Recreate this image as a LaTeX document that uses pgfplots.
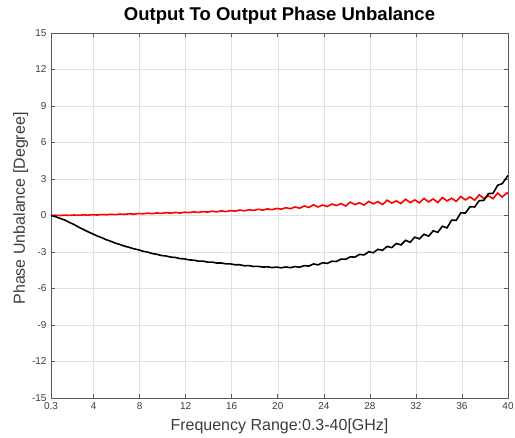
\documentclass[border=0pt]{standalone}
\usepackage{fontspec}
\setmainfont{Liberation Sans}
\usepackage{pgfplots}
\pgfplotsset{compat=1.18}

\definecolor{gridgray}{RGB}{225,225,225}
\definecolor{axgray}{RGB}{90,90,90}
\definecolor{labgray}{RGB}{60,60,60}

\begin{document}
\begin{tikzpicture}
% fixed frame: 1pt = 1px of the reference
\path[use as bounding box] (-51pt,-40pt) rectangle (464pt,398pt);
\begin{axis}[
    at={(0pt,0pt)}, anchor=south west,
    scale only axis,
    width=457pt, height=365pt,
    xmin=0.3, xmax=40,
    ymin=-15, ymax=15,
    xtick={0.3,4,8,12,16,20,24,28,32,36,40},
    ytick={-15,-12,-9,-6,-3,0,3,6,9,12,15},
    tick align=inside,
    major tick length=4pt,
    tick style={axgray, line width=0.6pt},
    axis line style={axgray, line width=0.8pt},
    grid=major,
    grid style={gridgray, line width=0.5pt},
    /pgf/number format/assume math mode=true,
    tick label style={font=\fontsize{10}{11}\selectfont, text=labgray},
    yticklabel style={xshift=-1pt},
    xticklabel style={yshift=-1pt},
    title={Output To Output Phase Unbalance},
    title style={font=\fontsize{18.5}{20}\selectfont\bfseries,
        at={(axis description cs:0.5,1)}, anchor=base, yshift=6pt},
    xlabel={Frequency Range:0.3-40[GHz]},
    xlabel style={font=\fontsize{16}{18}\selectfont, text=labgray,
        at={(axis description cs:0.5,0)}, anchor=base, yshift=-33pt},
    ylabel={Phase Unbalance [Degree]},
    % rotated label: xshift runs along the text, yshift across it
    ylabel style={font=\fontsize{16}{18}\selectfont, text=labgray,
        at={(axis description cs:0,0.5)}, anchor=base, xshift=7pt, yshift=26pt},
]

% red trace
\addplot[red, line width=1.6pt] coordinates {
(0.3,0.00) (0.7,0.02) (1.1,0.00) (1.5,0.03) (1.9,0.01) (2.3,0.04) (2.7,0.02)
(3.1,0.05) (3.5,0.03) (3.9,0.06) (4.3,0.04) (4.7,0.08) (5.1,0.06) (5.5,0.10)
(5.9,0.07) (6.3,0.12) (6.7,0.10) (7.1,0.14) (7.5,0.11) (7.9,0.16) (8.3,0.14)
(8.7,0.19) (9.1,0.15) (9.5,0.21) (9.9,0.17) (10.3,0.23) (10.7,0.19) (11.1,0.25)
(11.5,0.20) (11.9,0.27) (12.3,0.24) (12.7,0.30) (13.1,0.25) (13.5,0.32) (13.9,0.28)
(14.3,0.35) (14.7,0.30) (15.1,0.38) (15.5,0.32) (15.9,0.40) (16.3,0.36) (16.7,0.45)
(17.1,0.38) (17.5,0.47) (17.9,0.42) (18.3,0.51) (18.7,0.44) (19.1,0.54) (19.5,0.48)
(19.9,0.58) (20.3,0.52) (20.7,0.64) (21.1,0.56) (21.5,0.70) (21.9,0.60) (22.3,0.78)
(22.7,0.66) (23.1,0.88) (23.5,0.70) (23.9,0.86) (24.3,0.74) (24.7,0.94) (25.1,0.82)
(25.5,0.98) (25.9,0.78) (26.3,1.10) (26.7,0.90) (27.1,1.04) (27.5,0.86) (27.9,1.16)
(28.3,0.96) (28.7,1.14) (29.1,0.90) (29.5,1.26) (29.9,1.02) (30.3,1.20) (30.7,0.98)
(31.1,1.34) (31.5,1.06) (31.9,1.28) (32.3,1.04) (32.7,1.40) (33.1,1.12) (33.5,1.36)
(33.9,1.06) (34.3,1.48) (34.7,1.20) (35.1,1.42) (35.5,1.16) (35.9,1.56) (36.3,1.28)
(36.7,1.52) (37.1,1.26) (37.5,1.70) (37.9,1.40) (38.3,1.62) (38.7,1.38) (39.1,1.84)
(39.5,1.52) (39.9,1.86) (40.0,1.78)
};

% black trace
\addplot[black, line width=1.6pt] coordinates {
(0.3,0.00) (0.7,-0.10) (1.1,-0.24) (1.5,-0.38) (1.9,-0.57) (2.3,-0.74) (2.7,-0.96)
(3.1,-1.14) (3.5,-1.33) (3.9,-1.50) (4.3,-1.68) (4.7,-1.82) (5.1,-1.99) (5.5,-2.12)
(5.9,-2.27) (6.3,-2.39) (6.7,-2.52) (7.1,-2.62) (7.5,-2.74) (7.9,-2.82) (8.3,-2.94)
(8.7,-3.01) (9.1,-3.13) (9.5,-3.19) (9.9,-3.29) (10.3,-3.33) (10.7,-3.42) (11.1,-3.45)
(11.5,-3.54) (11.9,-3.57) (12.3,-3.65) (12.7,-3.67) (13.1,-3.75) (13.5,-3.75) (13.9,-3.83)
(14.3,-3.83) (14.7,-3.91) (15.1,-3.90) (15.5,-3.98) (15.9,-3.98) (16.3,-4.05) (16.7,-4.05)
(17.1,-4.13) (17.5,-4.12) (17.9,-4.19) (18.3,-4.18) (18.7,-4.24) (19.1,-4.22) (19.5,-4.28)
(19.9,-4.24) (20.3,-4.30) (20.7,-4.23) (21.1,-4.29) (21.5,-4.20) (21.9,-4.25) (22.3,-4.12)
(22.7,-4.16) (23.1,-3.98) (23.5,-4.06) (23.9,-3.88) (24.3,-3.94) (24.7,-3.76) (25.1,-3.78)
(25.5,-3.58) (25.9,-3.60) (26.3,-3.40) (26.7,-3.42) (27.1,-3.20) (27.5,-3.24) (27.9,-2.98)
(28.3,-3.06) (28.7,-2.78) (29.1,-2.86) (29.5,-2.54) (29.9,-2.64) (30.3,-2.30) (30.7,-2.42)
(31.1,-2.04) (31.5,-2.20) (31.9,-1.78) (32.3,-1.92) (32.7,-1.54) (33.1,-1.70) (33.5,-1.26)
(33.9,-1.38) (34.3,-0.88) (34.7,-1.02) (35.1,-0.38) (35.5,-0.40) (35.9,0.22) (36.3,0.20)
(36.7,0.72) (37.1,0.70) (37.5,1.22) (37.9,1.24) (38.3,1.80) (38.7,1.82) (39.1,2.48)
(39.5,2.62) (39.9,3.15) (40.0,3.30)
};

\end{axis}
\end{tikzpicture}
\end{document}
